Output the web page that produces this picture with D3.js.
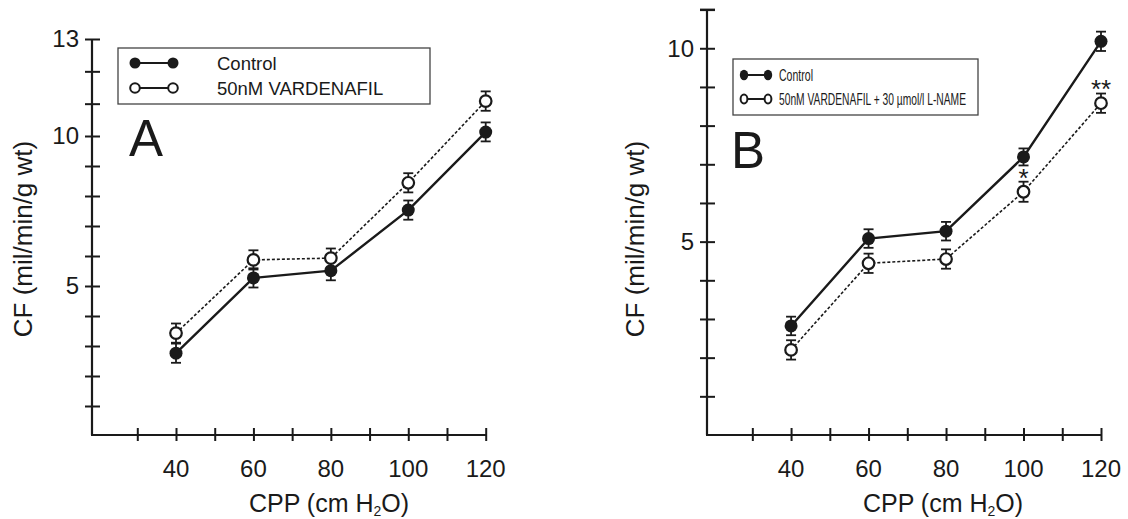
<!DOCTYPE html>
<html><head><meta charset="utf-8">
<script src="https://cdn.jsdelivr.net/npm/d3@7"></script>
<style>
body{margin:0;background:#fff}
text{font-family:"Liberation Sans",Arial,Helvetica,sans-serif;fill:#1a1a1a}
</style>
</head><body>
<svg id="c" width="1128" height="519"></svg>
<script>
// ---- data ----
const cpp = [40, 60, 80, 100, 120];
const controlA = [2.76, 5.27, 5.51, 7.53, 10.12];
const controlAErr = [0.32, 0.32, 0.32, 0.32, 0.3];
const vardA = [3.43, 5.87, 5.93, 8.44, 11.08];
const vardAErr = [0.32, 0.32, 0.32, 0.32, 0.3];
const controlB = [2.82, 5.08, 5.27, 7.19, 10.18];
const controlBErr = [0.24, 0.24, 0.24, 0.22, 0.25];
const lnameB = [2.20, 4.44, 4.55, 6.29, 8.58];
const lnameBErr = [0.25, 0.25, 0.25, 0.26, 0.25];
const xTicks = [30, 40, 50, 60, 70, 80, 90, 100, 110, 120];
const xLabels = [40, 60, 80, 100, 120];
const yTicksA = d3.range(1, 14);
const yLabelsA = [5, 10, 13];
const yTicksB = d3.range(1, 12);
const yLabelsB = [5, 10];
const legendA = ["Control", "50nM VARDENAFIL"];
const legendB = ["Control", "50nM VARDENAFIL + 30 \u00b5mol/l L-NAME"];
const sigB = [{x: 100, label: "*"}, {x: 120, label: "**"}];

const svg = d3.select("#c");
const ink = "#1a1a1a";

function panel(cfg) {
  const g = svg.append("g");
  const x = cfg.x, y = cfg.y;
  const yBottom = 435;
  g.append("g").attr("transform", `translate(${cfg.x0},0)`)
    .call(d3.axisLeft(y).tickValues(cfg.yTicks).tickSize(7).tickSizeOuter(0).tickFormat(""))
    .call(s => s.select(".domain").remove());
  g.append("g").attr("transform", `translate(${cfg.x0},0)`)
    .call(d3.axisRight(y).tickValues(cfg.yTicks).tickSize(8).tickSizeOuter(0).tickFormat(""))
    .call(s => s.select(".domain").remove());
  g.append("line").attr("x1", cfg.x0).attr("x2", cfg.x0).attr("y1", cfg.yTop).attr("y2", yBottom)
    .attr("stroke", ink).attr("stroke-width", 2.2);
  if (cfg.topTick) g.append("line").attr("x1", cfg.x0 - 7).attr("x2", cfg.x0 + 8)
    .attr("y1", cfg.yTop).attr("y2", cfg.yTop).attr("stroke", ink).attr("stroke-width", 2);
  g.append("g").attr("transform", `translate(0,${yBottom})`)
    .call(d3.axisBottom(x).tickValues(cfg.xTicks).tickSize(6).tickSizeOuter(0).tickFormat(""))
    .call(s => s.select(".domain").remove());
  g.append("g").attr("transform", `translate(0,${yBottom})`)
    .call(d3.axisTop(x).tickValues(cfg.xTicks).tickSize(7).tickSizeOuter(0).tickFormat(""))
    .call(s => s.select(".domain").remove());
  g.append("line").attr("x1", cfg.x0 - 1).attr("x2", x(120) + 1).attr("y1", yBottom).attr("y2", yBottom)
    .attr("stroke", ink).attr("stroke-width", 2.2);
  g.selectAll(".tick line").attr("stroke", ink).attr("stroke-width", 2);

  g.selectAll(".xl").data(xLabels).join("text")
    .attr("x", d => x(d)).attr("y", 477).attr("text-anchor", "middle")
    .attr("font-size", 24).text(d => d);
  g.selectAll(".yl").data(cfg.yLabels).join("text")
    .attr("x", cfg.yLabelX).attr("y", d => y(d)).attr("dy", "0.35em").attr("text-anchor", "end")
    .attr("font-size", 24).text(d => d);

  const xt = g.append("text").attr("x", cfg.xTitleX).attr("y", 512).attr("text-anchor", "middle")
    .attr("font-size", 25);
  xt.append("tspan").text("CPP (cm H");
  xt.append("tspan").attr("font-size", 14).attr("dy", 4).text("2");
  xt.append("tspan").attr("dy", -4).text("O)");
  g.append("text").attr("transform", `translate(${cfg.yTitleX},239) rotate(-90)`)
    .attr("text-anchor", "middle").attr("font-size", 26).text("CF (mil/min/g wt)");

  g.append("text").attr("x", cfg.letterX).attr("y", cfg.letterY).attr("font-size", 51).text(cfg.letter);

  const line = d3.line().x(d => x(d[0])).y(d => y(d[1]));
  const s1 = cpp.map((c, i) => [c, cfg.filled[i], cfg.filledErr[i]]);
  const s2 = cpp.map((c, i) => [c, cfg.open[i], cfg.openErr[i]]);
  g.append("path").datum(s2).attr("d", line).attr("fill", "none").attr("stroke", ink)
    .attr("stroke-width", 1.6).attr("stroke-dasharray", "3,2");
  g.append("path").datum(s1).attr("d", line).attr("fill", "none").attr("stroke", ink)
    .attr("stroke-width", 2.4);
  [s1, s2].forEach(s => {
    const eb = g.append("g").attr("stroke", ink).attr("stroke-width", 1.8);
    s.forEach(d => {
      const cx = x(d[0]), t = y(d[1] + d[2]), b = y(d[1] - d[2]);
      eb.append("line").attr("x1", cx).attr("x2", cx).attr("y1", t).attr("y2", b);
      eb.append("line").attr("x1", cx - 5).attr("x2", cx + 5).attr("y1", t).attr("y2", t);
      eb.append("line").attr("x1", cx - 5).attr("x2", cx + 5).attr("y1", b).attr("y2", b);
    });
  });
  g.selectAll(".pf").data(s1).join("circle").attr("cx", d => x(d[0])).attr("cy", d => y(d[1]))
    .attr("r", 6.5).attr("fill", ink);
  g.selectAll(".po").data(s2).join("circle").attr("cx", d => x(d[0])).attr("cy", d => y(d[1]))
    .attr("r", 5.8).attr("fill", "#fff").attr("stroke", ink).attr("stroke-width", 2.2);
  return g;
}

// Panel A
const xA = d3.scaleLinear().domain([18.3, 120]).range([92, 485.7]);
const yA = d3.scaleLinear().domain([0, 10, 13]).range([436, 136, 39]);
const gA = panel({x: xA, y: yA, x0: 92, yTop: 39, topTick: false, xTicks, yTicks: yTicksA, yLabels: yLabelsA,
  yLabelX: 79, xTitleX: 329, yTitleX: 32, letter: "A", letterX: 129, letterY: 156,
  filled: controlA, filledErr: controlAErr, open: vardA, openErr: vardAErr});

gA.append("rect").attr("x", 118).attr("y", 48).attr("width", 312).attr("height", 56)
  .attr("fill", "#fff").attr("stroke", "#444").attr("stroke-width", 1.3);
legendA.forEach((t, i) => {
  const ly = 63 + i * 25;
  gA.append("line").attr("x1", 135).attr("x2", 173).attr("y1", ly).attr("y2", ly).attr("stroke", ink).attr("stroke-width", 2);
  [135, 173].forEach(cx => {
    gA.append("circle").attr("cx", cx).attr("cy", ly).attr("r", i === 0 ? 5.5 : 4.8)
      .attr("fill", i === 0 ? ink : "#fff").attr("stroke", ink).attr("stroke-width", i === 0 ? 0 : 2);
  });
  gA.append("text").attr("x", 217).attr("y", ly + 7).attr("font-size", 18.5).text(t);
});

// Panel B
const xB = d3.scaleLinear().domain([18.3, 120]).range([707, 1101]);
const yB = d3.scaleLinear().domain([0, 11]).range([435, 9.6]);
const gB = panel({x: xB, y: yB, x0: 707, yTop: 9.6, topTick: true, xTicks, yTicks: yTicksB, yLabels: yLabelsB,
  yLabelX: 694, xTitleX: 943, yTitleX: 644, letter: "B", letterX: 731, letterY: 168,
  filled: controlB, filledErr: controlBErr, open: lnameB, openErr: lnameBErr});

gB.append("rect").attr("x", 733).attr("y", 59).attr("width", 245).attr("height", 56)
  .attr("fill", "#fff").attr("stroke", "#444").attr("stroke-width", 1.3);
legendB.forEach((t, i) => {
  const ly = 75 + i * 24;
  gB.append("line").attr("x1", 744).attr("x2", 768).attr("y1", ly).attr("y2", ly).attr("stroke", ink).attr("stroke-width", 2);
  [744, 768].forEach(cx => {
    gB.append("ellipse").attr("cx", cx).attr("cy", ly).attr("rx", i === 0 ? 4.2 : 3.4).attr("ry", i === 0 ? 5.2 : 4.4)
      .attr("fill", i === 0 ? ink : "#fff").attr("stroke", ink).attr("stroke-width", i === 0 ? 0 : 2);
  });
  gB.append("text").attr("x", 779).attr("y", ly + 6).attr("font-size", 17)
    .attr("textLength", i === 0 ? 34 : 187).attr("lengthAdjust", "spacingAndGlyphs").text(t);
});

const sigY = {100: 187, 120: 98};
gB.selectAll(".sig").data(sigB).join("text")
  .attr("x", d => xB(d.x)).attr("y", d => sigY[d.x]).attr("text-anchor", "middle")
  .attr("font-size", 26).text(d => d.label);
</script>
</body></html>
